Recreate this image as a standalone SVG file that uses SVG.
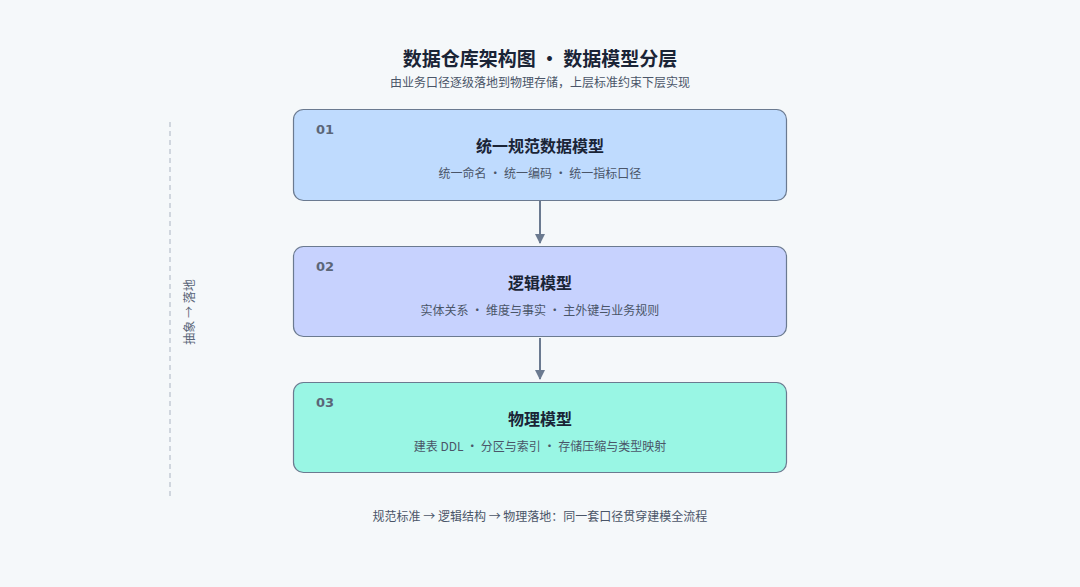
<svg xmlns="http://www.w3.org/2000/svg" width="1080" height="587" viewBox="0 0 1080 587">
<style>
.t{font-family:"Noto Sans CJK SC","Noto Sans",sans-serif}
.box{stroke:#6b7a90;stroke-width:1.2}
.num{font-family:"DejaVu Sans",sans-serif;font-weight:bold;font-size:13px;fill:#5b6678}
.title{font-weight:bold;font-size:16px;fill:#1a2436}
.sub{font-size:12px;fill:#4a5568}
</style>
<defs><marker id="ah" markerWidth="10" markerHeight="10" refX="9" refY="5" orient="auto" markerUnits="userSpaceOnUse"><path d="M0,0 L10,5 L0,10 z" fill="#6b7a90"/></marker></defs>
<rect width="1080" height="587" fill="#f5f8fa"/>
<text class="t" x="540" y="66" text-anchor="middle" font-size="19" font-weight="bold" fill="#1a2436">数据仓库架构图 · 数据模型分层</text>
<text class="t" x="540" y="87" text-anchor="middle" font-size="12" fill="#4a5568">由业务口径逐级落地到物理存储，上层标准约束下层实现</text>
<line x1="170" y1="122" x2="170" y2="497" stroke="#b8c0cc" stroke-width="1.2" stroke-dasharray="5,4"/>
<text class="t" transform="translate(194,312) rotate(-90)" text-anchor="middle" font-size="12" fill="#5b6678">抽象 → 落地</text>
<g id="connectors" stroke="#6b7a90" stroke-width="2" fill="none">
<line x1="540" y1="201" x2="540" y2="243" marker-end="url(#ah)"/>
<line x1="540" y1="338" x2="540" y2="379" marker-end="url(#ah)"/>
</g>
<g id="n1"><rect class="box" x="293.5" y="109.5" width="493" height="91" rx="10" fill="#bfdbfe"/>
<text class="num" x="316" y="134">01</text>
<text class="t title" x="540" y="152" text-anchor="middle">统一规范数据模型</text>
<text class="t sub" x="540" y="178" text-anchor="middle">统一命名 · 统一编码 · 统一指标口径</text></g>
<g id="n2"><rect class="box" x="293.5" y="246.5" width="493" height="90" rx="10" fill="#c7d2fe"/>
<text class="num" x="316" y="271">02</text>
<text class="t title" x="540" y="289" text-anchor="middle">逻辑模型</text>
<text class="t sub" x="540" y="315" text-anchor="middle">实体关系 · 维度与事实 · 主外键与业务规则</text></g>
<g id="n3"><rect class="box" x="293.5" y="382.5" width="493" height="90" rx="10" fill="#99f6e4"/>
<text class="num" x="316" y="407">03</text>
<text class="t title" x="540" y="425" text-anchor="middle">物理模型</text>
<text class="t sub" x="540" y="451" text-anchor="middle">建表 DDL · 分区与索引 · 存储压缩与类型映射</text></g>
<text class="t" x="540" y="521" text-anchor="middle" font-size="12" fill="#4a5568">规范标准 → 逻辑结构 → 物理落地：同一套口径贯穿建模全流程</text>
</svg>
